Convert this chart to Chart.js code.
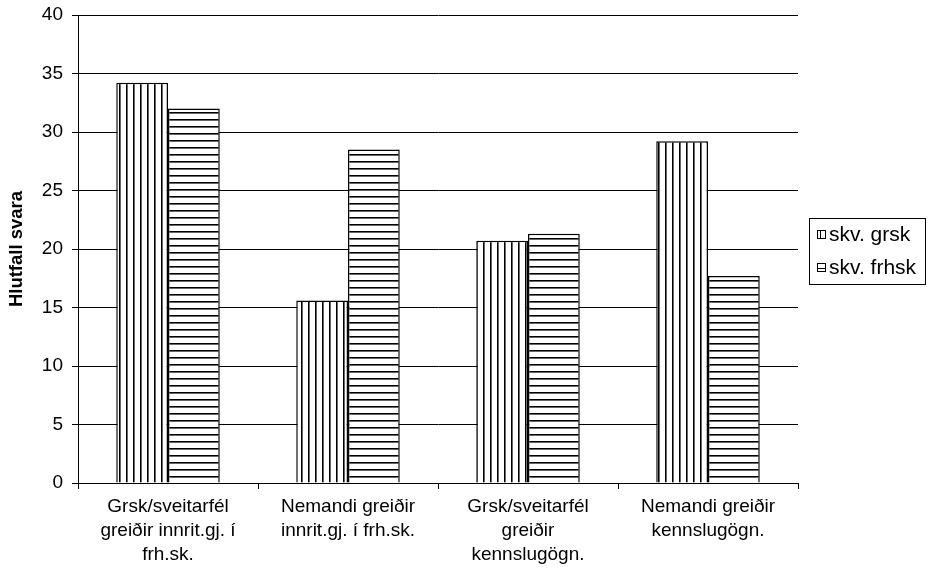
<!DOCTYPE html>
<html>
<head>
<meta charset="utf-8">
<script src="https://cdn.jsdelivr.net/npm/chart.js@4.4.0/dist/chart.umd.min.js"></script>
<style>
  body { margin: 0; background: #fff; }
  #wrap { width: 930px; height: 575px; }
</style>
</head>
<body>
<div id="wrap"><canvas id="chart"></canvas></div>
<script>
// data
const categories = [
    ['Grsk/sveitarfél', 'greiðir innrit.gj. í', 'frh.sk.'],
    ['Nemandi greiðir', 'innrit.gj. í frh.sk.'],
    ['Grsk/sveitarfél', 'greiðir', 'kennslugögn.'],
    ['Nemandi greiðir', 'kennslugögn.']
];
const seriesNames = ['skv. grsk', 'skv. frhsk'];
const grskValues = [34.2, 15.6, 20.7, 29.2];
const frhskValues = [32.0, 28.5, 21.3, 17.7];
const yMin = 0, yMax = 40, yStep = 5;
const yTitle = 'Hlutfall svara';

const FONT = "'Liberation Sans', Arial, sans-serif";

// striped fills
function stripes(vertical) {
    const c = document.createElement('canvas');
    c.width = 7; c.height = 7;
    const g = c.getContext('2d');
    g.fillStyle = '#fff';
    g.fillRect(0, 0, 7, 7);
    g.fillStyle = '#000';
    if (vertical) g.fillRect(0, 0, 1, 7); else g.fillRect(0, 0, 7, 1);
    g.fillStyle = '#666';
    if (vertical) g.fillRect(1, 0, 1, 7); else g.fillRect(0, 1, 7, 1);
    return g.createPattern(c, 'repeat');
}
const vPattern = stripes(true);
const hPattern = stripes(false);

// boxed legend on the right
const boxLegend = {
    id: 'boxLegend',
    afterDraw(chart) {
        const ctx = chart.ctx;
        const x = 809, y = 218, w = 116, h = 66;
        ctx.save();
        ctx.strokeStyle = '#000';
        ctx.lineWidth = 1;
        ctx.strokeRect(x + 0.5, y + 0.5, w, h);
        ctx.font = '21px ' + FONT;
        ctx.textBaseline = 'middle';
        chart.data.datasets.forEach((ds, i) => {
            const iy = y + 16 + i * 33;
            ctx.fillStyle = '#fff';
            ctx.fillRect(817, iy - 4, 8, 8);
            ctx.strokeStyle = '#000';
            ctx.strokeRect(817.5, iy - 3.5, 8, 8);
            ctx.beginPath();
            if (i === 0) { ctx.moveTo(820.5, iy - 3.5); ctx.lineTo(820.5, iy + 4.5); }
            else { ctx.moveTo(817.5, iy + 1.5); ctx.lineTo(825.5, iy + 1.5); }
            ctx.stroke();
            ctx.fillStyle = '#000';
            ctx.fillText(ds.label, 829, iy + 1);
        });
        ctx.restore();
    }
};

new Chart(document.getElementById('chart'), {
    type: 'bar',
    data: {
        labels: categories,
        datasets: [
            {
                label: seriesNames[0],
                data: grskValues,
                backgroundColor: vPattern,
                borderColor: '#000',
                borderWidth: 1.5
            },
            {
                label: seriesNames[1],
                data: frhskValues,
                backgroundColor: hPattern,
                borderColor: '#000',
                borderWidth: 1.5
            }
        ]
    },
    options: {
        responsive: true,
        maintainAspectRatio: false,
        animation: false,
        events: [],
        layout: { padding: { top: 15, right: 132, left: 0, bottom: 0 } },
        datasets: { bar: { categoryPercentage: 0.575, barPercentage: 1 } },
        plugins: {
            legend: { display: false },
            tooltip: { enabled: false }
        },
        scales: {
            x: {
                afterFit: s => { s.height = 92; s.paddingLeft = 0; s.paddingRight = 0; },
                grid: {
                    offset: true,
                    drawOnChartArea: false,
                    color: '#000',
                    tickLength: 6
                },
                border: { color: '#000', width: 1 },
                ticks: {
                    color: '#000',
                    font: { family: FONT, size: 19, lineHeight: 1.25 },
                    maxRotation: 0,
                    autoSkip: false,
                    padding: 6
                }
            },
            y: {
                min: yMin,
                max: yMax,
                afterFit: s => { s.width = 78; s.paddingTop = 0; s.paddingBottom = 0; },
                grid: { color: '#000', tickLength: 6, lineWidth: 1 },
                border: { color: '#000', width: 1 },
                ticks: {
                    stepSize: yStep,
                    color: '#000',
                    font: { family: FONT, size: 19 },
                    padding: 9
                },
                title: {
                    display: true,
                    text: yTitle,
                    color: '#000',
                    font: { family: FONT, size: 18.5, weight: 'bold' },
                    padding: { top: 6, bottom: 0 }
                }
            }
        }
    },
    plugins: [boxLegend]
});
</script>
</body>
</html>
